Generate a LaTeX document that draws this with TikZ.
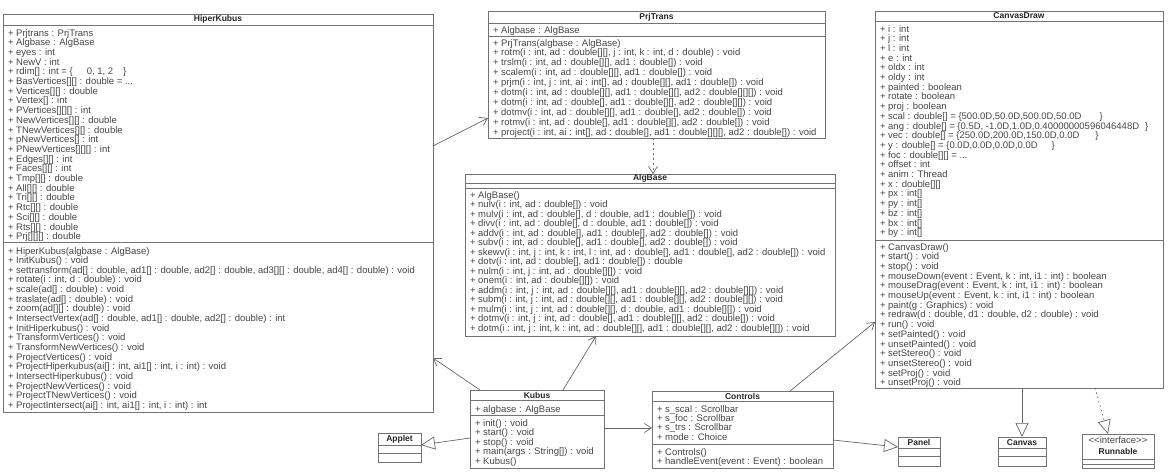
\documentclass[tikz,border=0pt]{standalone}
\usepackage{fontspec}
\setmainfont{Liberation Sans}
\usetikzlibrary{arrows.meta,calc,fit}
\tikzset{
  cls/.style={draw=black!55, line width=0.9pt, fill=white, inner sep=0pt, outer sep=0pt},
  sepline/.style={draw=black!55, line width=0.9pt},
  ttl/.style={font=\fontsize{8.5}{9}\selectfont\bfseries, text=black!85, inner sep=0pt},
  mem/.style={font=\fontsize{9.5}{9.7}\selectfont, text=black!72, inner sep=0pt, anchor=base west},
  assoc/.style={draw=black!60, line width=0.7pt, -{Straight Barb[length=7pt,width=9pt]}},
  gen/.style={draw=black!60, line width=0.7pt, -{Triangle[open,length=14pt,width=13pt,fill=white]}},
  dep/.style={assoc, dash pattern=on 2pt off 3pt},
  real/.style={gen, dash pattern=on 1.5pt off 3pt},
}
\newcommand\tdots{...}
\newcommand\classbox[5]{\node[cls, fit={(#2,#3) (#4,#5)}] (#1) {};}
\newcommand\memlist[5]{%
  \foreach \t [count=\i from 0] in {#5} {
    \node[mem] (#1p\i) at (#2, #3+\i*#4) {+};
    \node[mem] (#1m\i) at (#2+8, #3+\i*#4) {\t};
  }}
\begin{document}
\begin{tikzpicture}[x=1pt,y=-1pt]
\useasboundingbox (0,0) rectangle (1170,475);

% ---------------- HiperKubus
\classbox{hk}{3}{14}{433}{412}
\draw[sepline] (3,25) -- (433,25);
\draw[sepline] (3,242) -- (433,242);
\node[ttl] (hkt) at (218,19.5) {HiperKubus};
\memlist{hka}{8}{36}{9.7}{{Prjtrans : PrjTrans},{Algbase : AlgBase},{eyes : int},{NewV : int},
 {rdim[] : int = \{\hspace{14pt}0, 1, 2\hspace{10pt}\}},{BasVertices[][] : double = \tdots},{Vertices[][] : double},
 {Vertex[] : int},{PVertices[][][] : int},{NewVertices[][] : double},{TNewVertices[][] : double},
 {pNewVertices[] : int},{PNewVertices[][][] : int},{Edges[][] : int},{Faces[][] : int},{Tmp[][] : double},
 {All[][] : double},{Tri[][] : double},{Rtc[][] : double},{Sci[][] : double},{Rts[][] : double},{Prj[][][] : double}}
\memlist{hkb}{8}{254}{9.65}{{HiperKubus(algbase : AlgBase)},{InitKubus() : void},
 {settransform(ad[] : double, ad1[] : double, ad2[] : double, ad3[][] : double, ad4[] : double) : void},
 {rotate(i : int, d : double) : void},{scale(ad[] : double) : void},{traslate(ad[] : double) : void},
 {zoom(ad[][] : double) : void},{IntersectVertex(ad[] : double, ad1[] : double, ad2[] : double) : int},
 {InitHiperkubus() : void},{TransformVertices() : void},{TransformNewVertices() : void},{ProjectVertices() : void},
 {ProjectHiperkubus(ai[] : int, ai1[] : int, i : int) : void},{IntersectHiperkubus() : void},
 {ProjectNewVertices() : void},{ProjectTNewVertices() : void},{ProjectIntersect(ai[] : int, ai1[] : int, i : int) : int}}

% ---------------- PrjTrans
\classbox{pt}{488}{11}{825}{138}
\draw[sepline] (488,23) -- (825,23);
\draw[sepline] (488,36) -- (825,36);
\node[ttl] (ptt) at (656.5,17) {PrjTrans};
\memlist{pta}{493}{33}{9.7}{{Algbase : AlgBase}}
\memlist{ptb}{493}{46}{9.9}{{PrjTrans(algbase : AlgBase)},
 {rotm(i : int, ad : double[][], j : int, k : int, d : double) : void},
 {trslm(i : int, ad : double[][], ad1 : double[]) : void},
 {scalem(i : int, ad : double[][], ad1 : double[]) : void},
 {prjm(i : int, j : int, ai : int[], ad : double[][], ad1 : double[]) : void},
 {dotm(i : int, ad : double[][], ad1 : double[][], ad2 : double[][][]) : void},
 {dotm(i : int, ad : double[], ad1 : double[][], ad2 : double[][]) : void},
 {dotmv(i : int, ad : double[][], ad1 : double[], ad2 : double[]) : void},
 {rotmv(i : int, ad : double[], ad1 : double[][], ad2 : double[]) : void},
 {project(i : int, ai : int[], ad : double[], ad1 : double[][][], ad2 : double[]) : void}}

% ---------------- AlgBase
\classbox{ab}{465}{174}{835}{336}
\draw[sepline] (465,183) -- (835,183);
\draw[sepline] (465,188) -- (835,188);
\node[ttl] (abt) at (650,178.5) {AlgBase};
\memlist{abb}{470}{198}{9.5}{{AlgBase()},{nulv(i : int, ad : double[]) : void},
 {mulv(i : int, ad : double[], d : double, ad1 : double[]) : void},
 {divv(i : int, ad : double[], d : double, ad1 : double[]) : void},
 {addv(i : int, ad : double[], ad1 : double[], ad2 : double[]) : void},
 {subv(i : int, ad : double[], ad1 : double[], ad2 : double[]) : void},
 {skewv(i : int, j : int, k : int, l : int, ad : double[], ad1 : double[], ad2 : double[]) : void},
 {dotv(i : int, ad : double[], ad1 : double[]) : double},
 {nulm(i : int, j : int, ad : double[][]) : void},
 {onem(i : int, ad : double[][]) : void},
 {addm(i : int, j : int, ad : double[][], ad1 : double[][], ad2 : double[][]) : void},
 {subm(i : int, j : int, ad : double[][], ad1 : double[][], ad2 : double[][]) : void},
 {mulm(i : int, j : int, ad : double[][], d : double, ad1 : double[][]) : void},
 {dotmv(i : int, j : int, ad : double[], ad1 : double[][], ad2 : double[]) : void},
 {dotm(i : int, j : int, k : int, ad : double[][], ad1 : double[][], ad2 : double[][]) : void}}

% ---------------- CanvasDraw
\classbox{cd}{875}{11}{1163}{388}
\draw[sepline] (875,21) -- (1163,21);
\draw[sepline] (875,240) -- (1163,240);
\node[ttl] (cdt) at (1019,16) {CanvasDraw};
\memlist{cda}{880}{32}{9.7}{{i : int},{j : int},{l : int},{e : int},{oldx : int},{oldy : int},
 {painted : boolean},{rotate : boolean},{proj : boolean},
 {scal : double[] = \{500.0D,50.0D,500.0D,50.0D\hspace{18pt}\}},
 {ang : double[] = \{0.5D, -1.0D,1.0D,0.40000000596046448D\hspace{6pt}\}},
 {vec : double[] = \{250.0D,200.0D,150.0D,0.0D\hspace{16pt}\}},
 {y : double[] = \{0.0D,0.0D,0.0D,0.0D\hspace{14pt}\}},
 {foc : double[][] = \tdots},{offset : int},{anim : Thread},{x : double[][]},
 {px : int[]},{py : int[]},{bz : int[]},{bx : int[]},{by : int[]}}
\memlist{cdb}{880}{250}{9.7}{{CanvasDraw()},{start() : void},{stop() : void},
 {mouseDown(event : Event, k : int, i1 : int) : boolean},
 {mouseDrag(event : Event, k : int, i1 : int) : boolean},
 {mouseUp(event : Event, k : int, i1 : int) : boolean},
 {paint(g : Graphics) : void},{redraw(d : double, d1 : double, d2 : double) : void},
 {run() : void},{setPainted() : void},{unsetPainted() : void},{setStereo() : void},
 {unsetStereo() : void},{setProj() : void},{unsetProj() : void}}

% ---------------- Kubus
\classbox{ku}{470}{390}{604}{468}
\draw[sepline] (470,400) -- (604,400);
\draw[sepline] (470,415) -- (604,415);
\node[ttl] (kut) at (537,395) {Kubus};
\memlist{kua}{475}{412}{9.7}{{algbase : AlgBase}}
\memlist{kub}{475}{426}{9.5}{{init() : void},{start() : void},{stop() : void},
 {main(args : String[]) : void},{Kubus()}}

% ---------------- Controls
\classbox{co}{652}{391}{833}{468}
\draw[sepline] (652,401) -- (833,401);
\draw[sepline] (652,444) -- (833,444);
\node[ttl] (cot) at (742.5,396) {Controls};
\memlist{coa}{657}{412}{9.4}{{s\_scal : Scrollbar},{s\_foc : Scrollbar},{s\_trs : Scrollbar},{mode : Choice}}
\memlist{cob}{657}{455}{9.3}{{Controls()},{handleEvent(event : Event) : boolean}}

% ---------------- small classes
\classbox{ap}{378}{433}{421}{462}
\draw[sepline] (378,445) -- (421,445);
\draw[sepline] (378,453) -- (421,453);
\node[ttl] (apt) at (399.5,439) {Applet};

\classbox{pa}{898}{437}{940}{466}
\draw[sepline] (898,448) -- (940,448);
\draw[sepline] (898,456) -- (940,456);
\node[ttl] (pat) at (919,442.5) {Panel};

\classbox{ca}{998}{437}{1046}{466}
\draw[sepline] (998,448) -- (1046,448);
\draw[sepline] (998,456) -- (1046,456);
\node[ttl] (cat) at (1022,442.5) {Canvas};

\classbox{ru}{1082}{434}{1154}{468}
\draw[sepline] (1082,459) -- (1154,459);
\draw[sepline] (1082,464) -- (1154,464);
\node[mem, anchor=center] (rui) at (1118,440) {<{}<interface>{}>};
\node[ttl] (rut) at (1118,451) {Runnable};

% ---------------- connectors
\draw[assoc] ($(hk.north east)+(0,132)$) -- ($(pt.north west)+(0,107)$);
\draw[dep] ($(pt.south west)+(165,0)$) -- ($(ab.north west)+(188,0)$);
\draw[assoc] ($(ku.north west)+(10,0)$) -- ($(hk.north east)+(0,344)$);
\draw[assoc] ($(ku.north west)+(93,0)$) -- ($(ab.south west)+(131,0)$);
\draw[gen] ($(ku.north west)+(0,48)$) -- ($(ap.north east)+(0,12)$);
\draw[assoc] ($(ku.north east)+(0,38)$) -- ($(co.north west)+(0,37)$);
\draw[gen] ($(co.north east)+(0,49)$) -- ($(pa.north west)+(0,10)$);
\draw[assoc] ($(co.north west)+(138,0)$) -- ($(cd.north west)+(0,311)$);
\draw[gen] ($(cd.south west)+(147,0)$) -- (ca.north);
\draw[real] ($(cd.south west)+(220,0)$) -- ($(ru.north west)+(26,0)$);
\end{tikzpicture}
\end{document}
